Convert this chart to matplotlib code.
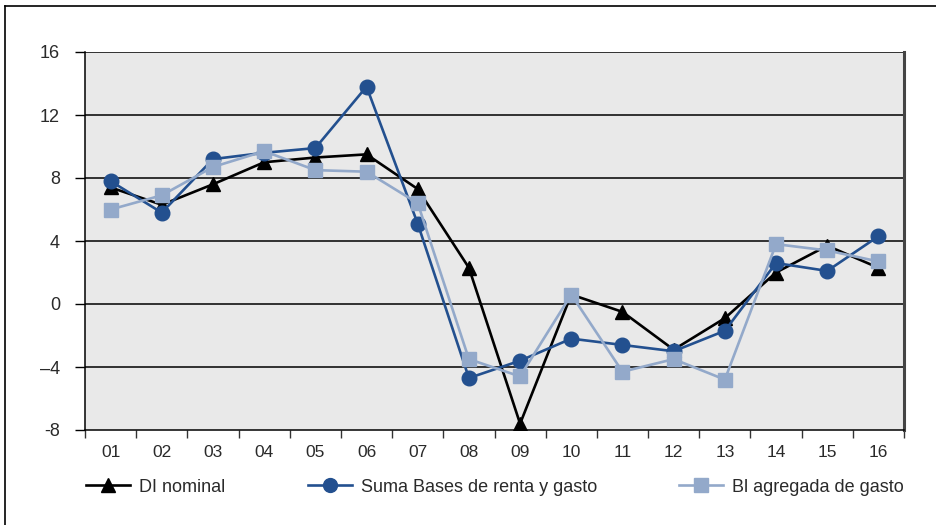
import matplotlib
matplotlib.use("Agg")
import matplotlib.pyplot as plt
from matplotlib.lines import Line2D
import numpy as np

categories = ["01", "02", "03", "04", "05", "06", "07", "08",
              "09", "10", "11", "12", "13", "14", "15", "16"]
di_nominal = [7.4, 6.3, 7.6, 9.0, 9.3, 9.5, 7.3, 2.3,
              -7.6, 0.6, -0.5, -2.9, -0.9, 2.0, 3.7, 2.3]
suma_bases = [7.8, 5.8, 9.2, 9.6, 9.9, 13.8, 5.1, -4.7,
              -3.6, -2.2, -2.6, -3.0, -1.7, 2.6, 2.1, 4.3]
bi_agregada = [6.0, 6.9, 8.7, 9.7, 8.5, 8.4, 6.4, -3.5,
               -4.6, 0.6, -4.3, -3.5, -4.8, 3.8, 3.4, 2.7]
y_ticks = [-8, -4, 0, 4, 8, 12, 16]
y_labels = ["-8", "\u20134", "0", "4", "8", "12", "16"]
series_names = ["DI nominal", "Suma Bases de renta y gasto", "Bl agregada de gasto"]

plt.rcParams['font.family'] = ['Liberation Sans', 'DejaVu Sans']
W, H = 936, 525
fig = plt.figure(figsize=(W / 100, H / 100), dpi=100)
ax = fig.add_axes([85 / W, 1 - 430 / H, (904 - 85) / W, (430 - 52) / H])
ax.set_facecolor('#e9e9e9')

x = np.arange(len(categories))
c_black = '#000000'
c_dark = '#23508f'
c_light = '#93a9ca'
lw = 1.9
l1, = ax.plot(x, di_nominal, color=c_black, lw=lw, marker='^', ms=10.5, zorder=3)
l2, = ax.plot(x, suma_bases, color=c_dark, lw=lw, marker='o', ms=10.5, zorder=4)
l3, = ax.plot(x, bi_agregada, color=c_light, lw=lw, marker='s', ms=10.5, zorder=5)

ax.set_xlim(-0.5, len(categories) - 0.5)
ax.set_ylim(-8, 16)
ax.set_yticks(y_ticks)
ax.set_yticklabels(y_labels)
for yv in y_ticks[1:]:
    ax.axhline(yv, color='black', lw=1.1, zorder=1)

ax.set_xticks(np.arange(-0.5, len(categories), 1.0))
ax.set_xticklabels([])
ax.set_xticks(x, minor=True)
ax.set_xticklabels(categories, minor=True)
ax.tick_params(axis='x', which='major', direction='out', length=6, width=1, color='#333333')
ax.tick_params(axis='x', which='minor', length=0, pad=11, labelsize=12.5, labelcolor='#2a2a2a')
ax.tick_params(axis='y', direction='out', length=7, width=1, pad=11, labelsize=13,
               labelcolor='#2a2a2a')

ax.spines['top'].set_visible(False)
ax.spines['left'].set_color('black')
ax.spines['left'].set_linewidth(1.1)
ax.spines['bottom'].set_color('black')
ax.spines['bottom'].set_linewidth(1.1)
ax.spines['right'].set_color('#444444')
ax.spines['right'].set_linewidth(2.2)

# Legends
handles = [l1, l2, l3]
xs = [86 / W, 308 / W, 679 / W]
for h, name, xp in zip(handles, series_names, xs):
    lg = fig.legend([h], [name], loc='center left', bbox_to_anchor=(xp, 1 - 487 / H),
                    frameon=False, fontsize=13, handlelength=2.45, handletextpad=0.5,
                    borderpad=0, borderaxespad=0, markerscale=0.95)
    for t in lg.get_texts():
        t.set_color('#2a2a2a')

# Outer frame (top and left edges visible)
fig.add_artist(Line2D([5 / W, 1.0], [1 - 6 / H, 1 - 6 / H], color='black', lw=1.2,
                      transform=fig.transFigure))
fig.add_artist(Line2D([5 / W, 5 / W], [0, 1 - 6 / H], color='black', lw=1.2,
                      transform=fig.transFigure))

fig.savefig('out.png', dpi=100)
